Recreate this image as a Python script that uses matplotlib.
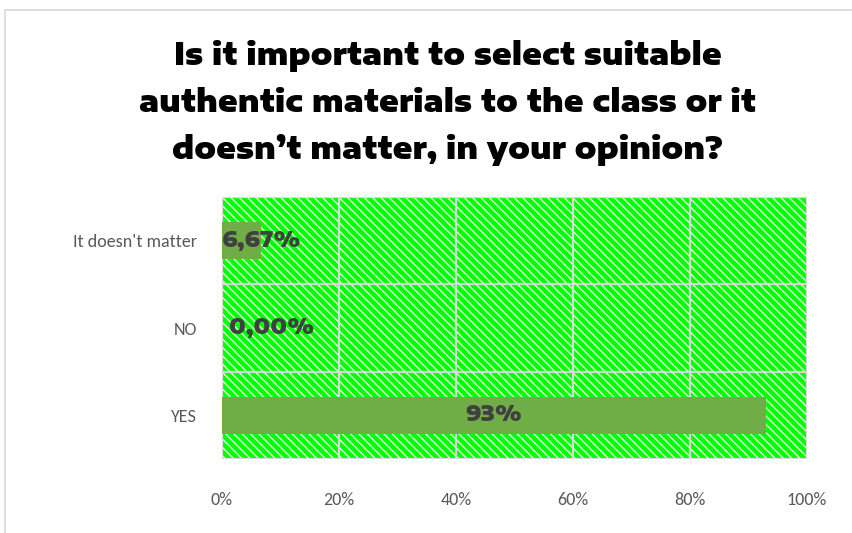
import matplotlib.pyplot as plt
from matplotlib.patches import Rectangle
import matplotlib as mpl

categories = ["YES", "NO", "It doesn't matter"]
values = [93, 0.0, 6.67]
value_labels = ["93%", "0,00%", "6,67%"]
ticks = [0, 20, 40, 60, 80, 100]
tick_labels = ["0%", "20%", "40%", "60%", "80%", "100%"]
title = ("Is it important to select suitable\n"
         "authentic materials to the class or it\n"
         "doesn\u2019t matter, in your opinion?")

mpl.rcParams['hatch.linewidth'] = 1.1

fig = plt.figure(figsize=(8.53, 5.33), dpi=100)
ax = fig.add_axes([0.2603, 0.1388, 0.6858, 0.4916])

# chart frame
fig.patches.append(Rectangle((5 / 853, -0.1), 1.2, 1 - 10 / 533 + 0.1,
                             transform=fig.transFigure, fill=False,
                             edgecolor='#d9d9d9', linewidth=1.2))

# striped green plot background
ax.patch.set_visible(False)
ax.add_patch(Rectangle((0, 0), 1, 1, transform=ax.transAxes,
                       facecolor='#00ff00', edgecolor='#d4f7d4',
                       hatch='\\\\\\\\', linewidth=0, zorder=0))

pos = list(range(len(categories)))
ax.barh(pos, values, height=0.42, color='#70ad47', zorder=3)

for x in ticks:
    ax.axvline(x, color='#d9d9d9', linewidth=1.6, zorder=2)
for y in [-0.5, 0.5, 1.5, 2.5]:
    ax.axhline(y, color='#d9d9d9', linewidth=1.6, zorder=2)

heavy = 'Encode Sans Expanded'
lab_font = dict(family=heavy, weight=900, size=15.5, color='#404040', zorder=4)
ax.text(values[0] / 2, 0, value_labels[0], ha='center', va='center', **lab_font)
ax.text(1.2, 1, value_labels[1], ha='left', va='center', **lab_font)
ax.text(0, 2, value_labels[2], ha='left', va='center', **lab_font)

ax.set_xlim(0, 100)
ax.set_ylim(-0.5, 2.5)
ax.set_xticks(ticks)
ax.set_xticklabels(tick_labels)
ax.set_yticks(pos)
ax.set_yticklabels(categories)
ax.tick_params(length=0, labelsize=13, labelcolor='#595959')
ax.tick_params(axis='x', pad=24)
ax.tick_params(axis='y', pad=18)
for t in ax.get_xticklabels() + ax.get_yticklabels():
    t.set_family('Carlito')
for s in ax.spines.values():
    s.set_visible(False)

fig.text(0.525, 1 - 103 / 533, title, ha='center', va='center',
         family=heavy, weight=900, size=21.5, linespacing=1.6)

fig.savefig('out.png', dpi=100)
